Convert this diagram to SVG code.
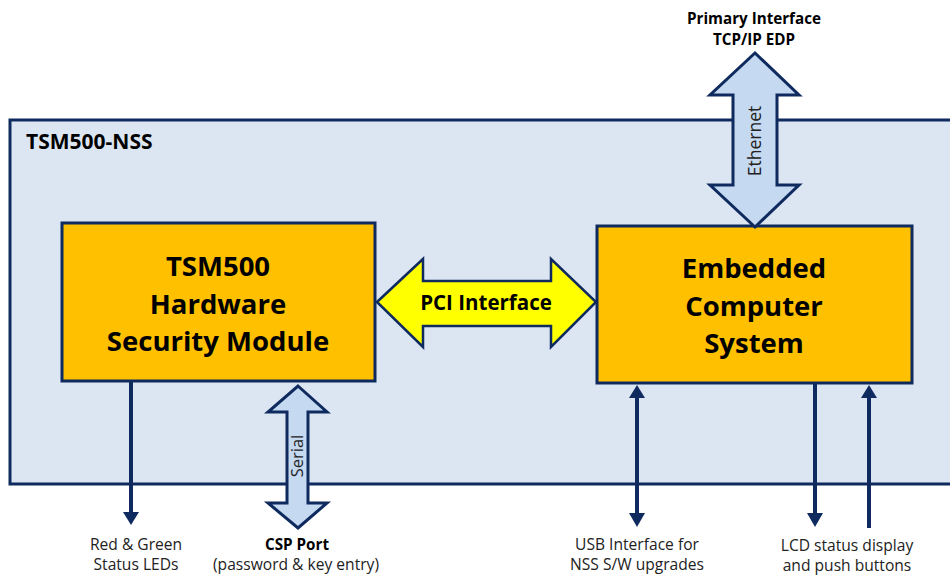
<svg xmlns="http://www.w3.org/2000/svg" width="950" height="576" viewBox="0 0 950 576">
<defs>
<style>
.box{fill:#ffc000;stroke:#0e2a5e;stroke-width:3;}
.big{font-family:"Open Sans","Liberation Sans",sans-serif;font-weight:bold;font-size:27.5px;fill:#000;text-anchor:middle;}
.lbl{font-family:"Open Sans","Liberation Sans",sans-serif;font-size:15.6px;fill:#222;text-anchor:middle;}
.blbl{font-family:"Open Sans","Liberation Sans",sans-serif;font-weight:bold;font-size:15.2px;fill:#000;text-anchor:middle;}
.line{stroke:#0e2a5e;stroke-width:4;fill:none;}
.head{fill:#0e2a5e;}
.barrow{fill:#c5d9f1;stroke:#0e2a5e;stroke-width:3;stroke-linejoin:miter;}
.rot{font-family:"Open Sans","Liberation Sans",sans-serif;fill:#222;text-anchor:middle;}
</style>
</defs>
<g id="container">
<rect x="10" y="120" width="960" height="364" fill="#dce6f2" stroke="#0e2a5e" stroke-width="3"/>
<text x="26" y="149" font-family="'Open Sans','Liberation Sans',sans-serif" font-weight="bold" font-size="21" fill="#000">TSM500-NSS</text>
</g>
<g id="hsm">
<rect class="box" x="62" y="223" width="313" height="158"/>
<text class="big" x="218" y="276">TSM500</text>
<text class="big" x="218" y="314">Hardware</text>
<text class="big" x="218" y="351">Security Module</text>
</g>
<g id="ecs">
<rect class="box" x="597" y="226" width="315" height="157"/>
<text class="big" x="754" y="278">Embedded</text>
<text class="big" x="754" y="316">Computer</text>
<text class="big" x="754" y="353">System</text>
</g>
<g id="connectors">
<g id="pci">
<polygon points="377,302 423,259 423,281 551,281 551,259 596,302 551,347 551,326 423,326 423,347" fill="#ffff00" stroke="#0e2a5e" stroke-width="2.5"/>
<text x="486" y="310" font-family="'Open Sans','Liberation Sans',sans-serif" font-weight="bold" font-size="20.5" fill="#000" text-anchor="middle">PCI Interface</text>
</g>
<g id="ethernet">
<polygon class="barrow" points="755,53 799,95 777,95 777,185 799,185 755,227 710,185 733,185 733,95 710,95"/>
<text class="rot" x="0" y="0" transform="translate(761,141) rotate(-90)" font-size="17.5">Ethernet</text>
</g>
<g id="serial">
<polygon class="barrow" points="298,386 327,412 308,412 308,503 327,503 298,528 268,503 287,503 287,412 268,412"/>
<text class="rot" x="0" y="0" transform="translate(303,456) rotate(-90)" font-size="16.5">Serial</text>
</g>
<g id="leds">
<line class="line" x1="131" y1="382" x2="131" y2="513"/>
<polygon class="head" points="123,512 139,512 131,525"/>
</g>
<g id="usb">
<line class="line" x1="637" y1="396" x2="637" y2="515"/>
<polygon class="head" points="629,398 645,398 637,385"/>
<polygon class="head" points="629,513 645,513 637,527"/>
</g>
<g id="lcd">
<line class="line" x1="815" y1="384" x2="815" y2="515"/>
<polygon class="head" points="807,513 823,513 815,527"/>
</g>
<g id="buttons">
<line class="line" x1="869" y1="528" x2="869" y2="396"/>
<polygon class="head" points="861,398 877,398 869,385"/>
</g>
</g>
<g id="labels">
<text class="blbl" x="754" y="24">Primary Interface</text>
<text class="blbl" x="754" y="45">TCP/IP EDP</text>
<text class="lbl" x="136" y="550">Red &amp; Green</text>
<text class="lbl" x="136" y="570">Status LEDs</text>
<text class="blbl" x="297" y="550">CSP Port</text>
<text class="lbl" x="296" y="570">(password &amp; key entry)</text>
<text class="lbl" x="637" y="550">USB Interface for</text>
<text class="lbl" x="637" y="570">NSS S/W upgrades</text>
<text class="lbl" x="847" y="551">LCD status display</text>
<text class="lbl" x="847" y="571">and push buttons</text>
</g>
</svg>
